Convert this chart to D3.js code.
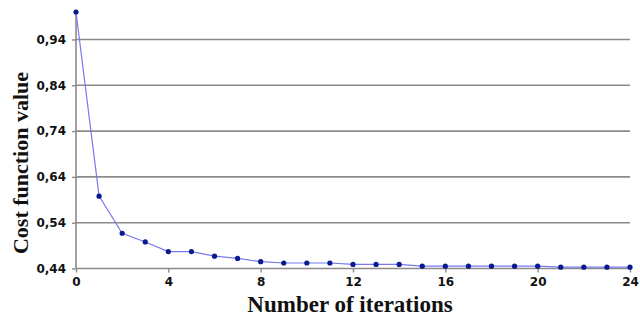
<!DOCTYPE html>
<html>
<head>
<meta charset="utf-8">
<script src="https://cdn.jsdelivr.net/npm/d3@7"></script>
<style>
  body { margin: 0; background: #fff; }
</style>
</head>
<body>
<svg id="chart"></svg>
<script>
var iterations = [0,1,2,3,4,5,6,7,8,9,10,11,12,13,14,15,16,17,18,19,20,21,22,23,24];
var costValues = [1.0,0.598,0.517,0.498,0.477,0.477,0.467,0.462,0.455,0.452,0.452,0.452,0.449,0.449,0.449,0.445,0.445,0.445,0.445,0.445,0.445,0.443,0.443,0.443,0.443];
var yTicks = [0.44,0.54,0.64,0.74,0.84,0.94];
var xTicks = [0,4,8,12,16,20,24];

var W = 640, H = 319;
var margin = {top: 12, right: 10, bottom: 50, left: 76},
  width = 630 - margin.left,
  height = 268.5 - margin.top;

var svg = d3.select("#chart")
  .attr("width", W)
  .attr("height", H)
  .append("g")
  .attr("transform", "translate(" + margin.left + "," + margin.top + ")");

var x = d3.scaleLinear().domain([0, 24]).range([0, width]);
var y = d3.scaleLinear().domain([0.44, 1.0]).range([height, 0]);

// gridlines
svg.selectAll(".grid")
  .data(yTicks.slice(1))
  .enter().append("line")
    .attr("x1", 0).attr("x2", width)
    .attr("y1", d => y(d)).attr("y2", d => y(d))
    .attr("stroke", "#8a8a8a")
    .attr("stroke-width", 1.6);

// y axis
var yAxis = svg.append("g")
  .call(d3.axisLeft(y).tickValues(yTicks).tickSize(4).tickFormat(d => d3.format(".2f")(d).replace(".", ",")));
yAxis.select(".domain").attr("stroke", "#8a8a8a").attr("stroke-width", 1.6).attr("d", "M0," + height + "V" + y(1.005));
yAxis.selectAll(".tick line").attr("stroke", "#8a8a8a").attr("stroke-width", 1.4);
yAxis.selectAll("text")
  .attr("x", -10)
  .attr("font-family", "DejaVu Sans")
  .attr("font-weight", "bold")
  .attr("font-size", "12px")
  .attr("fill", "#111");

// x axis
var xAxis = svg.append("g")
  .attr("transform", "translate(0," + height + ")")
  .call(d3.axisBottom(x).tickValues(xTicks).tickSize(4));
xAxis.select(".domain").attr("stroke", "#8a8a8a").attr("stroke-width", 1.6).attr("d", "M0,0H" + width);
xAxis.selectAll(".tick line").attr("stroke", "#8a8a8a").attr("stroke-width", 1.4);
xAxis.selectAll("text")
  .attr("y", 9)
  .attr("font-family", "DejaVu Sans")
  .attr("font-weight", "bold")
  .attr("font-size", "12px")
  .attr("fill", "#111");

// line
var line = d3.line()
  .x((d, i) => x(iterations[i]))
  .y(d => y(d));

svg.append("path")
  .datum(costValues)
  .attr("fill", "none")
  .attr("stroke", "#7878ee")
  .attr("stroke-width", 1.2)
  .attr("d", line);

svg.selectAll(".dot")
  .data(costValues)
  .enter().append("circle")
    .attr("cx", (d, i) => x(iterations[i]))
    .attr("cy", d => y(d))
    .attr("r", 2.6)
    .attr("fill", "#0a1a8c");

// titles
d3.select("#chart").append("text")
  .attr("x", 350)
  .attr("y", 312)
  .attr("text-anchor", "middle")
  .attr("font-family", "Liberation Serif")
  .attr("font-weight", "bold")
  .attr("font-size", "23px")
  .attr("fill", "#111")
  .text("Number of iterations");

d3.select("#chart").append("text")
  .attr("transform", "translate(28,163) rotate(-90)")
  .attr("text-anchor", "middle")
  .attr("font-family", "Liberation Serif")
  .attr("font-weight", "bold")
  .attr("font-size", "22px")
  .attr("fill", "#111")
  .text("Cost function value");
</script>
</body>
</html>
